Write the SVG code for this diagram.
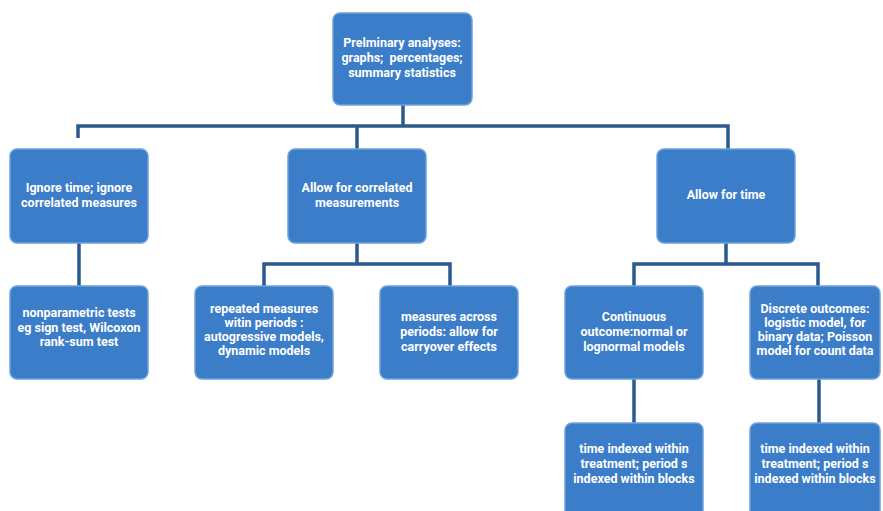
<svg xmlns="http://www.w3.org/2000/svg" width="883" height="511" viewBox="0 0 883 511">
<style>
.box{fill:#3b7dc8;stroke:#6fa3dc;stroke-width:1.5}
.t{font-family:Roboto,"Liberation Sans",sans-serif;font-weight:bold;font-size:12.5px;fill:#ffffff;text-anchor:middle}
.c{fill:none;stroke:#2b5a8c;stroke-width:3.5}
</style>
<rect width="883" height="511" fill="#ffffff"/>
<g id="connectors">
<path class="c" d="M403 105V126M78 138V126H728V149M357 126V149"/>
<path class="c" d="M79 243V286"/>
<path class="c" d="M357 243V264M264 286V264H450V286"/>
<path class="c" d="M726 243V264M634 286V264H818V286"/>
<path class="c" d="M634 379V423"/>
<path class="c" d="M819 379V423"/>
</g>
<g id="root"><rect class="box" x="333" y="13" width="139" height="92" rx="7"/>
<text class="t" x="402" y="47">Prelminary analyses:</text>
<text class="t" x="402" y="62">graphs;&#160; percentages;</text>
<text class="t" x="402" y="77">summary statistics</text></g>
<g id="ignore"><rect class="box" x="10" y="149" width="138" height="94" rx="7"/>
<text class="t" x="79" y="192">Ignore time; ignore</text>
<text class="t" x="79" y="207">correlated measures</text></g>
<g id="allowcorr"><rect class="box" x="288" y="149" width="138" height="94" rx="7"/>
<text class="t" x="357" y="192">Allow for correlated</text>
<text class="t" x="357" y="207">measurements</text></g>
<g id="allowtime"><rect class="box" x="657" y="149" width="138" height="94" rx="7"/>
<text class="t" x="726" y="199">Allow for time</text></g>
<g id="nonparam"><rect class="box" x="10" y="286" width="138" height="93" rx="7"/>
<text class="t" x="79" y="317">nonparametric tests</text>
<text class="t" x="79" y="332">eg sign test, Wilcoxon</text>
<text class="t" x="79" y="346">rank-sum test</text></g>
<g id="repeated"><rect class="box" x="195" y="286" width="138" height="93" rx="7"/>
<text class="t" x="264" y="313">repeated measures</text>
<text class="t" x="264" y="327">witin periods :</text>
<text class="t" x="264" y="341">autogressive models,</text>
<text class="t" x="264" y="355">dynamic models</text></g>
<g id="across"><rect class="box" x="380" y="286" width="138" height="93" rx="7"/>
<text class="t" x="449" y="321">measures across</text>
<text class="t" x="449" y="336">periods: allow for</text>
<text class="t" x="449" y="351">carryover effects</text></g>
<g id="continuous"><rect class="box" x="565" y="286" width="138" height="93" rx="7"/>
<text class="t" x="634" y="321">Continuous</text>
<text class="t" x="634" y="336">outcome:normal or</text>
<text class="t" x="634" y="351">lognormal models</text></g>
<g id="discrete"><rect class="box" x="750" y="286" width="130" height="93" rx="7"/>
<text class="t" x="815" y="313">Discrete outcomes:</text>
<text class="t" x="815" y="327">logistic model, for</text>
<text class="t" x="815" y="341">binary data; Poisson</text>
<text class="t" x="815" y="355">model for count data</text></g>
<g id="timeidx1"><rect class="box" x="565" y="423" width="138" height="100" rx="7"/>
<text class="t" x="634" y="453">time indexed within</text>
<text class="t" x="634" y="468">treatment; period s</text>
<text class="t" x="634" y="483">indexed within blocks</text></g>
<g id="timeidx2"><rect class="box" x="750" y="423" width="130" height="100" rx="7"/>
<text class="t" x="815" y="453">time indexed within</text>
<text class="t" x="815" y="468">treatment; period s</text>
<text class="t" x="815" y="483">indexed within blocks</text></g>
</svg>
